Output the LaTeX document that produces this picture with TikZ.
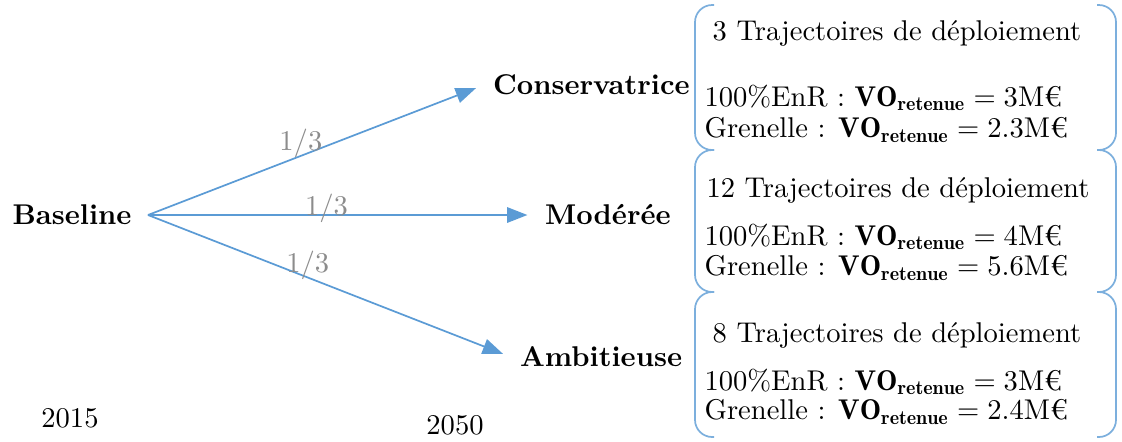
\documentclass[tikz,border=0pt]{standalone}
\usepackage{fontspec}
\usepackage{amsmath}
\usepackage{tikz}
\usepackage{xcolor}
\usetikzlibrary{arrows.meta,positioning,calc}
\definecolor{scenblue}{HTML}{5B9BD5}
\definecolor{probgray}{HTML}{8C8C8C}
\tikzset{
  scen/.style={font=\bfseries, inner sep=3pt},
  flow/.style={-{Triangle[length=2.5mm,width=1.9mm]}, semithick, draw=scenblue, shorten >=3pt},
  prob/.style={text=probgray, anchor=south, inner sep=0pt},
  boxline/.style={semithick, draw=scenblue!80, rounded corners=6pt},
  info/.style={anchor=west, inner sep=0pt},
  title/.style={inner sep=0pt}
}
\newcommand{\vo}[1]{$\mathbf{VO}_{\mathbf{retenue}} = #1$M€}

\begin{document}
\begin{tikzpicture}[x=0.35pt, y=-0.35pt]
  \useasboundingbox (0,0) rectangle (1122,441);
  % scenarios
  \node[scen] (base) at (72,215) {Baseline};
  \coordinate (root) at (148,215);
  \node[scen, anchor=west] (cons) at (484,85) {Conservatrice};
  \node[scen, anchor=west] (mod) at (536,215) {Modérée};
  \node[scen, anchor=west] (amb) at (511,357) {Ambitieuse};
  \draw[flow] (root) -- node[prob, pos=0.455, yshift=-1pt] {1/3} (cons.west);
  \draw[flow] (root) -- node[prob, pos=0.46, yshift=-3pt] {1/3} (mod.west);
  \draw[flow] (root) -- node[prob, pos=0.44, yshift=-1pt] {1/3} (amb.west);
  \node (y2015) at (70,418) {2015};
  \node (y2050) at (455,425) {2050};
  % boxes
  \foreach \ytop/\ybot in {5/150,150/292,292/437}{
    \draw[boxline] (714,\ytop) -- (695,\ytop) -- (695,\ybot) -- (714,\ybot);
    \draw[boxline] (1097,\ytop) -- (1116,\ytop) -- (1116,\ybot) -- (1097,\ybot);
  }
  \node[title] (t1) at (897,33) {3 Trajectoires de déploiement};
  \node[info] (e1) at (704,98) {100\%EnR : \vo{3}};
  \node[info] (g1) at (704,130) {Grenelle : \vo{2.3}};
  \node[title] (t2) at (898,190) {12 Trajectoires de déploiement};
  \node[info] (e2) at (704,237) {100\%EnR : \vo{4}};
  \node[info] (g2) at (704,268) {Grenelle : \vo{5.6}};
  \node[title] (t3) at (897,335) {8 Trajectoires de déploiement};
  \node[info] (e3) at (704,382) {100\%EnR : \vo{3}};
  \node[info] (g3) at (704,412) {Grenelle : \vo{2.4}};
\end{tikzpicture}
\end{document}
